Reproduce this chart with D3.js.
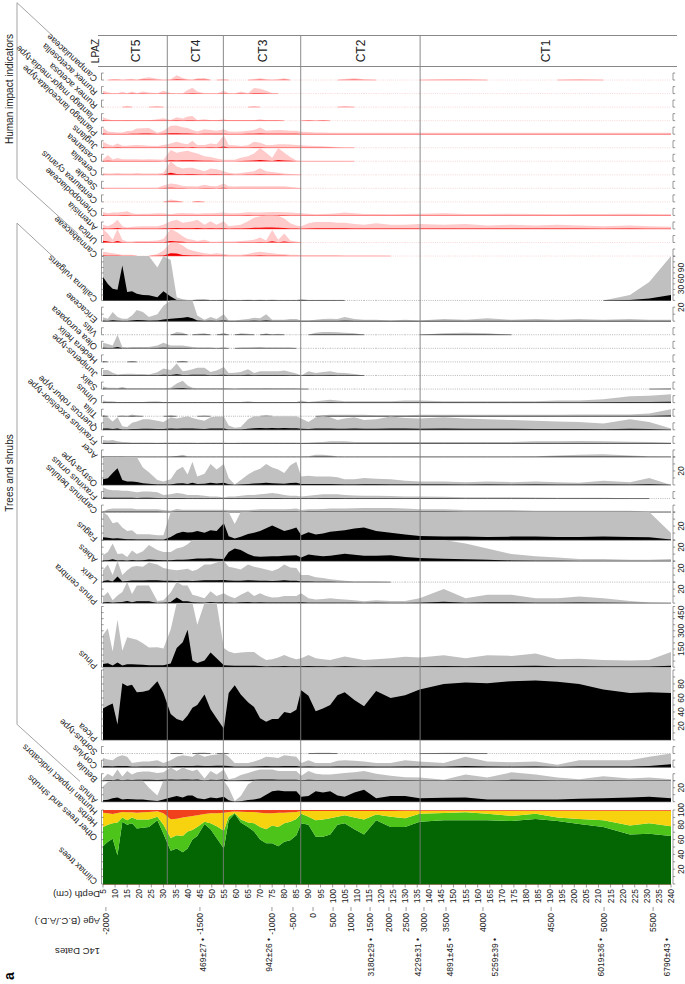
<!DOCTYPE html>
<html><head><meta charset="utf-8">
<script src="https://cdn.jsdelivr.net/npm/d3@7/dist/d3.min.js"></script>
<style>
body{margin:0;background:#fff;}
svg{display:block;font-family:"Liberation Sans",Arial,sans-serif;}
</style></head><body>
<svg id="c" width="685" height="984"></svg>
<script>
// ---------------- DATA ----------------
const depths=[5,7,9,11,13,15,17,19,21.5,24,27.5,30,33,35.5,38,40,42,44,47,49.5,52,55,57,59.5,62,65,67.5,70,72.5,75,77.5,80,82.5,85,87,90,93,96,99,102,105,109,113,118,124,130,136,146,155,164,174,184,193,202,212,223,231,240];
const zoneBounds=[31.6,54.8,86.8,136.2];
const zoneNames=["CT5","CT4","CT3","CT2","CT1"];
const depthTicks=[5,10,15,20,25,30,35,40,45,50,55,60,65,70,75,80,85,90,95,100,105,110,115,120,125,130,135,140,145,150,155,160,165,170,175,180,185,190,195,200,205,210,215,220,225,230,235,240];
const ageLabels=[-2000,-1500,-1000,-500,0,500,1000,1500,2000,2500,3000,3500,4000,4500,5000,5500];
const ageDepths=[6.2,45.1,74.9,83.6,91.9,100.2,107.6,115.5,123.3,130.4,137.8,146.9,162.2,190.4,212.3,232.6];
const c14Labels=["469±27","942±26","3180±29","4229±31","4891±45","5259±39","6019±36","6790±43"];
const c14Depths=[46.4,73.5,115.7,135.5,148.7,167,211.2,238.5];

// summary (%)
const climax=[51,57,61,39,84,80,82,75,76,77,86,68,45,48,43,48,60,65,81,74,62,48,86,95,83,77,71,60,55,55,51,57,59,66,82,80,64,64,67,80,82,74,67,86,77,77,84,86,86,86,85,88,85,81,77,67,68,65];
const otherTrees=[26,23,21,44,6,6,8,12,11,10,5,12,17,18,22,23,13,12,3,8,16,24,5,1,4,6,11,17,19,24,26,25,25,22,13,11,22,23,22,11,11,16,20,8,14,12,11,10,11,9,7,7,5,7,9,12,14,13];
const herbs=[19.4,15.5,12.6,13,7.3,11,7,9.4,10,10.3,7.2,15.5,25.4,22.3,25,20,19,15.8,10.6,13.5,17.5,24.4,6.3,2,10.7,14.3,15.3,19.4,21.5,16.5,19.4,14.4,13,9.3,3.5,7.5,12.5,11.5,9.5,7.5,5.5,8.5,11.5,4.5,7.5,10,4,3,2,4,7,4,9,11,13,20,17,21];
const humanSum=[3.6,4.5,5.4,4,2.7,3,3,3.6,3,2.7,1.8,4.5,12.6,11.7,10,9,8,7.2,5.4,4.5,4.5,3.6,2.7,2,2.3,2.7,2.7,3.6,4.5,4.5,3.6,3.6,3,2.7,1.5,1.5,1.5,1.5,1.5,1.5,1.5,1.5,1.5,1.5,1.5,1,1,1,1,1,1,1,1,1,1,1,1,1];

// human impact indicators (%)
const humanTaxa=["Campanulaceae","Rumex acetosella","Rumex acetosa","Plantago major-media-type","Plantago lanceolata-type","Juglans","Castanea","Cerealia","Secale","Centaurea cyanus","Chenopodiaceae","Artemisia","Urtica","Cannabaceae"];
const campanulaceae=[0,0,0.15,0.15,0,0.1,0.2,0,0.25,0.4, 0.2,0,0.1,0.7,0.3,0.1,0,0.25,0.3,0, 0,0.1,0,0,0,0,0.15,0.25,0.1,0, 0.1,0.25,0,0,0,0,0,0,0,0, 0.15,0.25,0.1,0,0,0,0,0.1,0.15,0, 0,0,0,0.1,0,0,0,0];
const rumexAcetosella=[0.4,0.2,0.05,0.05,0.25,0.05,0.3,0.05,0.3,0.15, 0.05,0.4,0.1,0,0.05,0.5,0.85,0.3,0.05,0.05, 0,0.4,0.05,0,0.3,0.05,0.8,0.7,0.4,0.1, 0,0,0,0,0,0,0,0,0,0, 0,0,0,0,0,0,0,0,0,0, 0,0,0,0,0,0,0,0];
const rumexAcetosa=[0,0,0,0,0,0.15,0,0,0,0, 0.15,0,0,0,0,0,0,0,0,0, 0,0,0,0,0,0,0.15,0,0,0, 0,0,0,0,0,0,0,0,0,0, 0.15,0,0,0,0,0,0,0,0,0, 0,0,0,0,0,0,0,0];
const plantagoMajor=[0.5,0.2,0.05,0.05,0.05,0.1,0.05,0.05,0.05,0.05, 0.2,0.35,0.1,0.5,0.3,0.6,0.65,0.1,0.2,0.05, 0.05,0.2,0.05,0.05,0.05,0.05,0.05,0.2,0.05,0.05, 0.05,0,0,0,0,0.1,0,0.1,0,0, 0,0,0,0,0,0,0,0,0,0, 0,0,0,0,0,0,0,0];
const plantagoLanc=[0.95,0.4,0.3,0.25,0.25,0.45,0.5,0.8,0.85,0.9, 0.2,0.5,1.2,1.25,1.0,0.9,0.6,0.4,0.7,0.6, 0.5,0.7,0.4,0.35,0.4,0.5,0.6,0.95,0.5,0.55, 0.6,0.55,0.5,0.5,0.35,0.3,0.25,0.25,0.2,0.2, 0.2,0.2,0.2,0.2,0.2,0.2,0.2,0.2,0.2,0.2, 0.2,0.2,0.2,0.2,0.2,0.2,0.2,0.2];
const juglans=[0.85,0.5,0.3,0.6,0.3,0.3,0.35,0.4,0.35,0.3, 0.25,0.4,0.6,0.85,0.6,0.5,1.0,0.4,0.4,0.6, 0.5,1.8,0.4,0.35,0.25,0.35,0.85,0.7,0.4,0.4, 0.5,0.5,0.45,0.4,0.35,0.3,0.25,0.2,0.15,0.1, 0.05,0,0,0,0,0,0,0,0,0, 0,0,0,0,0,0,0,0];
const castanea=[0.25,0.9,0.25,0.45,0.3,0.3,0.3,0.3,0.25,0.3, 0.25,0.2,1.6,1.2,1.4,1.5,1.3,1.1,0.7,0.6, 0.4,0.2,0.2,0.2,0.5,0.7,1.1,1.9,1.2,0.5, 1.9,1.2,0.6,0.1,0.05,0.05,0.05,0.05,0.05,0.05, 0.05,0,0,0,0,0,0,0,0,0, 0,0,0,0,0,0,0,0];
const cerealia=[0.25,0.2,0.2,0.25,0.2,0.2,0.2,0.25,0.2,0.2, 0.2,0.3,2.8,1.2,0.9,1.0,1.0,0.8,0.5,0.9, 0.8,0.5,0.3,0.2,0.25,0.4,0.5,0.95,0.5,0.4, 0.3,0.2,0.1,0.05,0,0,0,0,0,0, 0,0,0,0,0,0,0,0,0,0, 0,0,0,0,0,0,0,0];
const secale=[0.1,0.1,0.1,0.1,0.1,0.1,0.1,0.1,0.1,0.1, 0.1,0.4,0.7,0.6,0.35,0.3,0.3,0.25,0.5,0.35, 0.3,0.7,0.3,0.25,0.3,0.3,0.3,0.3,0.3,0.3, 0.3,0.3,0.2,0.1,0,0,0,0,0,0, 0,0,0,0,0,0,0,0,0,0, 0,0,0,0,0,0,0,0];
const centaurea=[0,0,0,0,0,0,0,0,0,0, 0,0,0.35,0.2,0,0,0,0.1,0,0, 0,0,0,0,0,0,0,0,0,0, 0,0,0,0,0,0,0,0,0,0, 0,0,0,0,0,0,0,0,0,0, 0,0,0,0,0,0,0,0];
const chenopodiaceae=[0.5,0.3,0.4,0.4,0.5,0.6,0.3,0.2,0.25,0.25, 0.3,0.3,0.15,0.3,0.35,0.3,0.3,0.25,0.3,0.3, 0.35,0.4,0.3,0.3,0.35,0.45,0.4,0.4,0.45,0.5, 0.5,0.45,0.4,0.35,0.3,0.25,0.15,0.2,0.25,0.3, 0.4,0.3,0.2,0.2,0.15,0.2,0.25,0.3,0.2,0.2, 0.25,0.2,0.15,0.2,0.2,0.25,0.2,0.15];
const artemisia=[0.6,0.4,0.7,1.3,0.4,0.2,0.3,0.35,0.4,0.4, 0.4,0.6,1.1,1.3,0.9,1.0,1.1,1.3,0.6,1.1, 0.6,1.1,0.4,0.5,0.6,1.1,1.6,1.8,2.0,2.2, 1.9,1.5,0.8,0.5,0.4,0.8,1.0,1.0,1.0,0.9, 0.9,0.7,0.6,0.8,0.6,0.6,0.7,0.6,0.7,0.5, 0.6,0.5,0.6,0.5,0.4,0.5,0.4,0.3];
const urtica=[2.5,1.3,0.4,2.0,0.4,0.15,0.15,0.2,0.2,0.2, 0.3,0.5,2.0,1.5,0.9,0.5,0.4,0.2,0.4,0.1, 0.1,0.15,0.15,0.15,0.2,0.3,0.4,0.7,0.3,1.8, 0.4,1.3,0.3,0.15,0,0,0,0,0,0, 0,0,0,0,0,0,0,0,0,0, 0,0,0,0,0,0,0,0];
const cannabaceae=[0.6,0.5,0.4,0.3,0.2,0.2,0.2,0,0,0, 0.3,0.8,4.0,3.5,1.5,1.0,0.8,0.6,0.4,0.3, 0.4,0.3,0.2,0.2,0.2,0.3,0.5,0.6,0.5,0.4, 0.3,0.25,0.2,0.2,0.1,0.1,0.1,0.1,0.1,0.1, 0.05,0.05,0.05,0.05,0,0,0,0,0,0, 0,0,0,0,0,0,0,0];
const humanValues=[campanulaceae,rumexAcetosella,rumexAcetosa,plantagoMajor,plantagoLanc,juglans,castanea,cerealia,secale,centaurea,chenopodiaceae,artemisia,urtica,cannabaceae];

// trees and shrubs (%)
const treeTaxa=["Calluna vulgaris","Ericaceae","Vitis","Olea europaea","Hedera helix","Juniperus-type","Salix","Ulmus","Tilia","Quercus robur-type","Fraxinus excelsior-type","Acer","Ostrya-type","Fraxinus ornus","Carpinus betulus","Fagus","Abies","Larix","Pinus cembra","Pinus","Picea","Sorbus-type","Corylus","Betula","Alnus"];
const calluna=[64,45,32,29,95,23,25,18,15,14, 9,25,11,0.9,0.3,0.1,0.1,0.3,0.4,0.1, 0.1,0.2,0.1,0.1,0.1,0.2,0.1,0.2,0.1,0.2, 0.1,0.1,0.1,0.1,0.4,0.1,0.1,0.1,0.1,0.1, 0,0,0,0,0,0,0,0,0,0, 0,0,0,0,0,1.5,5,15];
const ericaceae=[0.57,0.33,1.3,0.6,0.33,0.33,0.8,1.6,1.3,0.6, 1,2.2,3.5,4,5,6,4,0.8,0.2,0.6, 0.3,1,0.1,0.1,0.2,0.3,0.5,0.4,1,0.2, 0.2,0.2,0.3,0.3,0.1,0.1,0.2,0.3,0.35,0.3, 0.6,0.3,0.2,0.2,0.1,0.2,0.1,0.3,0.2,0.4, 0.2,0.3,0.2,0.3,0.2,0.3,0.2,0.2];
const vitis=[0,0,0,0,0,0,0,0,0,0, 0,0,0,0.4,0.3,0,0,0.15,0.2,0, 0,0.3,0,0,0.2,0.15,0,0,0.2,0, 0.15,0,0,0,0,0,0.3,0.4,0.4,0.35, 0.3,0.2,0,0,0,0,0,0.2,0.3,0.2, 0,0,0,0,0,0,0,0];
const olea=[0.8,0.6,0.4,2.0,0.2,0.1,0.2,0.2,0.2,0.2, 0.4,0.8,0.4,0.4,0.4,0.3,0.2,0.1,0.1,0.1, 0,0.15,0,0,0.1,0.1,0.15,0.2,0.1,0.1, 0.1,0.1,0.1,0,0,0,0,0,0,0, 0,0,0,0,0,0,0,0,0,0, 0,0,0,0,0,0,0,0];
const hedera=[0.1,0,0,0,0,0,0.05,0,0,0, 0,0,0,0,0.1,0,0,0,0,0, 0,0,0,0,0,0,0,0,0,0, 0,0,0,0,0,0,0,0,0,0, 0,0,0,0,0,0,0,0,0,0, 0,0,0,0,0,0,0,0];
const juniperus=[0.8,0.8,0.4,0.15,0.2,0.25,0.25,0.2,0.2,0.15, 0.45,1.0,0.8,1.7,0.6,0.7,0.9,1.1,1.1,0.5, 0.7,1.2,0.35,0.4,0.5,0.9,0.35,0.6,0.6,0.6, 0.6,0.7,0.5,0.3,0,0.6,0.35,0.5,0.6,0.4, 0.35,0.2,0,0,0,0,0,0,0,0, 0,0,0,0,0,0,0,0];
const salix=[0.4,0.2,0.2,0.15,0.3,0.1,0.1,0.1,0.1,0.1, 0.1,0.1,0.2,0.8,1.2,0.5,0.2,0.1,0.1,0.1, 0.1,0.1,0.1,0.05,0.1,0.1,0.1,0.1,0.15,0.1, 0.1,0.1,0.1,0.1,0.05,0,0,0,0,0, 0,0,0,0,0,0,0,0,0,0, 0,0,0,0,0,0,0,0.1];
const ulmus=[0.3,0.2,0.2,0.1,0.1,0.1,0.1,0.1,0.1,0.15, 0.2,0.1,0.1,0.1,0.1,0.1,0.1,0.1,0.1,0.1, 0.1,0.1,0.1,0.1,0.1,0.2,0.1,0.1,0.1,0.1, 0.1,0.1,0.1,0.1,0.3,0.1,0.2,0.3,0.4,0.3, 0.2,0.2,0.2,0.2,0.2,0.3,0.3,0.2,0.2,0.2, 0.2,0.2,0.3,0.3,0.5,0.9,1.0,1.2];
const tilia=[0.2,0,0,0,0.1,0,0.25,0.1,0,0, 0,0,0.15,0,0,0,0,0,0.1,0, 0,0,0,0,0,0,0,0,0.15,0, 0,0,0,0,0,0,0,0.15,0.2,0.2, 0.2,0.2,0.2,0.15,0.15,0.15,0.2,0.2,0.2,0.2, 0.2,0.2,0.2,0.25,0.25,0.25,0.4,1.0];
const quercus=[1.8,1.8,1.2,1.8,0.5,0.4,1.0,1.2,1.5,1.5, 1.3,1.1,1.8,1.6,1.8,2.0,1.7,1.5,1.3,1.8, 1.9,1.9,0.6,0.3,0.4,1.5,2.2,2.5,2.2,2.4, 2.2,2.5,2.3,2.2,1.6,1.1,1.8,2.0,1.8,1.4, 1.6,1.8,1.4,1.5,1.9,1.7,1.6,1.8,1.6,1.5, 1.4,1.3,1.2,1.1,0.9,1.5,1.1,0.2];
const fraxExc=[0.5,0.4,0.5,0.3,0.2,0.15,0.1,0.1,0.1,0.1, 0.05,0.1,0.1,0.1,0.1,0.1,0.1,0.05,0.1,0.1, 0.1,0.1,0.05,0.05,0.1,0.1,0.1,0.1,0.1,0.1, 0.1,0.1,0.1,0.1,0.05,0.1,0.15,0.2,0.3,0.3, 0.3,0.2,0.2,0.2,0.2,0.2,0.2,0.2,0.2,0.2, 0.2,0.3,0.3,0.35,0.3,0.25,0.2,0.1];
const acer=[0.1,0.1,0.1,0.1,0.1,0.05,0.05,0.05,0.05,0.05, 0.05,0.05,0.1,0.15,0.3,0.1,0.05,0.05,0.05,0.05, 0.05,0.05,0.05,0.05,0.05,0.05,0.05,0.05,0.05,0.05, 0.05,0.05,0.05,0.05,0.05,0.1,0.3,0.3,0.2,0.1, 0.05,0.05,0.05,0.05,0.05,0.05,0.05,0.05,0.05,0.05, 0.05,0.1,0.2,0.3,0.4,0.2,0.1,0.05];
const ostrya=[8,9.5,17,24,7,4.8,5,4.2,2.5,1.8, 0.7,0.5,0.8,2.1,2.6,1.5,3.3,1.2,1.6,3.0, 2.2,3.0,1.0,0.05,0.7,1.5,2.0,2.3,3.0,2.5, 2.2,1.7,2.8,3.3,1.2,1.3,1.2,1.2,1.2,1.1, 0.8,0.8,1.0,0.9,0.8,0.6,0.5,0.5,0.4,0.5, 0.4,0.5,0.4,0.3,0.6,0.4,1.0,0];
const fraxOrnus=[1.6,1.3,1.2,1.2,1.1,1.1,1.0,0.9,1.0,1.0, 0.9,0.5,0.6,0.8,0.7,0.5,0.5,0.5,0.4,0.3, 0.3,0.2,0.3,0.3,0.4,0.5,0.5,0.6,0.7,0.8, 0.7,0.5,0.4,0.4,0.3,0.4,0.5,0.6,0.6,0.6, 0.5,0.45,0.4,0.4,0.35,0.3,0.3,0.25,0.2,0.2, 0.2,0.15,0.1,0.1,0.1,0.05,0,0];
const carpinus=[0.1,0.4,0.5,0.5,0.5,0.5,0.5,0.4,0.4,0.4, 0.4,0.3,0.2,0.45,0.35,0.35,0.35,0.35,0.35,0.35, 0.35,0.35,0.3,0.3,0.3,0.3,0.35,0.4,0.4,0.4, 0.4,0.4,0.45,0.5,0.3,0.4,0.4,0.45,0.5,0.5, 0.5,0.55,0.6,0.6,0.6,0.5,0.4,0.4,0.3,0.3, 0.3,0.2,0.2,0.2,0.2,0.2,0.1,0.1];
const fagus=[4.2,3.5,2.4,2.6,1.8,1.3,1.4,0.85,0.85,0.85, 0.7,0.7,4.5,9.5,12,11,11.4,13,10.5,14, 13,24,5.7,2.3,4.8,8.6,10.5,13,17,21, 17,13,15,18,7,11.4,8,9.5,12,13, 14,16.7,18,13,10.5,8,6,5,5,4.5, 5,5,4.5,4.5,5,4.5,4,1];
const abies=[0.85,1.3,2.5,1.0,1.1,0.6,1.5,1.0,1.4,2.3, 1.6,1.3,1.3,1.8,2.0,2.4,3.2,3.8,3.8,4, 3.5,3,13,18,16,10,7,6.2,6.5,7, 7,7.5,8,8.5,5,9.5,8,7,7.5,9, 10.5,9,7.5,7.8,8.5,6,4.5,3.5,2.5,1.8, 1.0,0.7,0.5,0.3,0.3,0.2,0.2,0.3];
const larix=[1.7,2.5,1.0,8,1.0,1.7,2.2,2.3,2.2,2.8, 2.5,2.0,1.8,1.7,1.8,1.9,1.6,1.8,2.5,2.5, 2.8,3.0,2.2,2.0,1.8,2.5,2.2,2.0,1.8,1.6, 1.9,2.5,2.1,2.0,1.0,1.0,0.7,0.6,0.4,0.3, 0.2,0.1,0.1,0.1,0,0,0,0,0,0, 0,0,0,0,0,0,0,0];
const pinusCembra=[0.9,1.6,0.4,1.1,1.6,3,1.3,2.5,2.5,2.5, 0.3,0.4,1.5,8,2.5,2.5,1.2,1.0,0.7,1.7, 1.0,1.4,1.0,0.7,1.2,1.7,1.0,1.4,1.0,0.8, 0.85,1.0,1.0,1.0,1.4,0.7,0.5,0.6,0.7,0.6, 0.5,0.4,0.25,0.4,0.3,0.3,0.7,2.0,0.7,1.2, 1.2,0.7,0.7,0.95,0.7,0.3,0.1,0];
const pinus=[26.6,32,13,39,13.5,24.7,23.6,22.5,19.8,16.2, 16.5,15.4,31,157,206,308,55,35,55,121, 74,15.7,13,11.5,12,12.6,12.6,8.8,6,6.6, 8,10,8,6.6,7.4,10,7.4,6.6,6,7.4, 8.8,7.4,6,6.6,7.4,8.5,8,9.9,7.4,9.9, 9.3,11.3,6.6,6.9,6,5.5,6,12.4];
const picea=[45,49,52,22,81,77,79,68,69,71, 84,67,37,30,27,35,46,50,65,44, 31,16,67,78,65,54,47,31,26,30, 30,40,38,43,71,63,41,45,50,64, 68,57,48,70,60,64,72,80,82,81, 84,85,83,80,72,67,68,67];
const sorbus=[0,0,0,0,0,0,0,0,0,0, 0,0,0,0.1,0,0,0,0.1,0.15,0, 0,0.1,0,0,0,0,0,0,0,0, 0,0,0,0,0,0,0.1,0.1,0.1,0, 0,0,0,0,0,0,0,0.1,0.1,0, 0,0,0,0,0,0,0,0];
const corylus=[1.3,1.1,1.0,1.5,1.7,1.5,0.6,0.7,0.8,0.8, 1.0,0.6,1.0,1.5,1.7,1.6,1.5,1.9,1.5,1.7, 1.8,2.0,1.5,0.6,0.6,0.6,0.8,1.1,1.5,1.4, 1.3,1.7,1.6,1.5,0.6,1.0,0.6,0.6,0.6,0.9, 1.0,0.9,0.8,0.6,0.6,1.0,0.8,0.6,1.5,0.8, 0.7,0.8,0.35,1.0,1.0,1.0,1.5,4];
const betula=[0.3,1.0,0.6,1.6,0.6,1.4,0.9,1.2,1.3,1.3, 1.1,1.2,1.9,1.4,1.9,1.6,1.4,1.6,0.3,1.4, 0.9,1.6,0.2,0.4,0.8,1.1,1.4,1.6,1.6,1.6, 1.4,1.4,1.4,1.4,0.7,1.4,1.0,0.9,0.9,1.0, 1.1,1.2,1.4,1.0,0.7,0.5,0.45,0.15,0.9,0.45, 1.2,0.9,0.45,0.2,0.65,0.3,0.45,0.2];
const alnus=[2.2,2.8,4.8,6,3.3,3.8,3.5,3.3,3.0,2.0, 0.9,3.3,6,8,6,9,9,5,3.5,6, 5,7,2.0,0.1,0.8,2.5,3.3,5,10,15, 16,15,15,15,7,8,15,13,15,9, 7,13,17,5,8,8,5,5.7,6,3.2, 3.3,3.3,3.2,4.3,5,6,7,5];
const treeValues=[calluna,ericaceae,vitis,olea,hedera,juniperus,salix,ulmus,tilia,quercus,fraxExc,acer,ostrya,fraxOrnus,carpinus,fagus,abies,larix,pinusCembra,pinus,picea,sorbus,corylus,betula,alnus];
const treeAxisMax=[121,29.6,19.4,19.4,19.4,19.4,19.4,19.4,19.4,19.4,19.4,19.4,40,19.4,19.4,40,30,30,30,528,104,19.4,19.4,19.4,30];
const summaryLabels=["Climax trees","Other trees and shrubs","Herbs","Human impact indicators"];

// ---------------- LAYOUT / STYLE ----------------
const svg=d3.select("#c");
const x=d3.scaleLinear().domain([5,240]).range([103,671]);
const K=0.7, EXAG=10, HUMAN_MAX=19.34;
const special={"Calluna vulgaris":{k:0.367,tick:15,label:30},"Pinus":{k:0.1213,tick:50,label:150}};
const GREY="#c0c0c0", PINK="#ffcaca", RED="#f20000";
const TXT="#222";
const LEFT_AX=101.5, RIGHT_AX=673;

const panels=[];
let yc=66.5;
humanTaxa.forEach((n,i)=>{const h=HUMAN_MAX*K;panels.push({name:n,vals:humanValues[i],top:yc,base:yc+h,max:HUMAN_MAX,k:K,tick:10,label:20,human:true});yc+=h;});
treeTaxa.forEach((n,i)=>{const s=special[n]||{k:K,tick:10,label:20};const h=treeAxisMax[i]*s.k;panels.push({name:n,vals:treeValues[i],top:yc,base:yc+h,max:treeAxisMax[i],k:s.k,tick:s.tick,label:s.label,human:false});yc+=h;});
const sumTop=810, sumBase=884;

function drawPanel(p){
  const g=svg.append("g");
  const data=depths.map((d,i)=>({d,v:p.vals[i]}));
  const yv=v=>p.base-Math.min(v,p.max)*p.k;
  g.append("path").attr("d",d3.area().x(d=>x(d.d)).y0(p.base).y1(d=>yv(d.v*EXAG))(data)).attr("fill",p.human?PINK:GREY);
  g.append("path").attr("d",d3.area().x(d=>x(d.d)).y0(p.base).y1(d=>yv(d.v))(data)).attr("fill",p.human?RED:"#000");
  for(let i=0;i<data.length-1;i++){
    const pres=data[i].v>0||data[i+1].v>0;
    g.append("line").attr("x1",x(data[i].d)).attr("x2",x(data[i+1].d)).attr("y1",p.base).attr("y2",p.base)
      .attr("stroke",pres?(p.human?"#f55":"#333"):(p.human?"#f6b0b0":"#9a9a9a"))
      .attr("stroke-width",p.human?0.5:0.7).attr("stroke-dasharray",pres?null:"1,1.2");
  }
  const ticks=d3.range(0,p.max+1e-6,p.tick);
  const topTick=ticks[ticks.length-1];
  [LEFT_AX,RIGHT_AX].forEach(ax=>{
    g.append("line").attr("x1",ax).attr("x2",ax).attr("y1",p.base).attr("y2",p.base-topTick*p.k).attr("stroke","#555").attr("stroke-width",0.6);
    ticks.forEach(t=>g.append("line").attr("x1",ax).attr("x2",ax+2.2).attr("y1",p.base-t*p.k).attr("y2",p.base-t*p.k).attr("stroke","#555").attr("stroke-width",0.6));
  });
  ticks.filter(t=>t>0&&t<=p.max-5&&Math.abs(t/p.label-Math.round(t/p.label))<1e-6).forEach(t=>{
    g.append("text").attr("transform",`translate(684,${p.base-t*p.k}) rotate(-90)`).attr("text-anchor","middle")
      .attr("font-size",8.5).attr("fill",TXT).text(t);
  });
  g.append("text").attr("transform",`translate(98,${p.base-2}) rotate(-137)`).attr("text-anchor","start")
    .attr("font-size",9).attr("fill",TXT).text(p.name);
}
panels.forEach(drawPanel);

// summary panel
const ys=d3.scaleLinear().domain([0,100]).range([sumBase,sumTop]);
const rows=depths.map((d,i)=>({depth:d,climax:climax[i],other:otherTrees[i],herbs:herbs[i],human:humanSum[i]}));
const keys=["climax","other","herbs","human"];
const sumColors=["#036603","#4cc41a","#f6d20f","#f0401c"];
d3.stack().keys(keys)(rows).forEach((s,j)=>{
  svg.append("path").attr("d",d3.area().x(d=>x(d.data.depth)).y0(d=>ys(d[0])).y1(d=>ys(d[1]))(s)).attr("fill",sumColors[j]);
});
[LEFT_AX,RIGHT_AX].forEach(ax=>{
  svg.append("line").attr("x1",ax).attr("x2",ax).attr("y1",ys(0)).attr("y2",ys(100)).attr("stroke","#555").attr("stroke-width",0.6);
  d3.range(0,101,10).forEach(t=>svg.append("line").attr("x1",ax).attr("x2",ax+2.2).attr("y1",ys(t)).attr("y2",ys(t)).attr("stroke","#555").attr("stroke-width",0.6));
});
[20,40,60,80,100].forEach(t=>svg.append("text").attr("transform",`translate(684,${ys(t)}) rotate(-90)`).attr("text-anchor","middle").attr("font-size",8.5).attr("fill",TXT).text(t));
const sumLabelPct=[3,62,81,97];
summaryLabels.forEach((l,i)=>svg.append("text").attr("transform",`translate(98,${ys(sumLabelPct[i])-1}) rotate(-137)`).attr("font-size",9).attr("fill",TXT).text(l));

// zone lines + LPAZ
const ZC="#7d7d7d";
zoneBounds.forEach(b=>svg.append("line").attr("x1",x(b)).attr("x2",x(b)).attr("y1",35.5).attr("y2",sumBase).attr("stroke",ZC).attr("stroke-width",0.9));
[35.5,66.5].forEach(yy=>svg.append("line").attr("x1",98).attr("x2",677).attr("y1",yy).attr("y2",yy).attr("stroke","#888").attr("stroke-width",1));
const zEdges=[5,...zoneBounds,240];
zoneNames.forEach((n,i)=>{const cx=(x(zEdges[i])+x(zEdges[i+1]))/2;
  svg.append("text").attr("transform",`translate(${cx+4.5},51) rotate(-90)`).attr("text-anchor","middle").attr("font-size",12).attr("fill",TXT).text(n);});
svg.append("text").attr("transform","translate(99,51) rotate(-90)").attr("text-anchor","middle").attr("font-size",10).attr("fill",TXT).text("LPAZ");

// group brackets
const BR="#999";
function bracket(firstBase,lastBase,endTop,endBot){
  const yAt=(b,xx)=>b-2-(98-xx)*0.93;
  const y1=yAt(firstBase,17), y2=yAt(lastBase,17);
  svg.append("line").attr("x1",17).attr("x2",17).attr("y1",y1).attr("y2",y2).attr("stroke",BR).attr("stroke-width",0.9);
  svg.append("line").attr("x1",17).attr("y1",y1).attr("x2",endTop).attr("y2",yAt(firstBase,endTop)).attr("stroke",BR).attr("stroke-width",0.9);
  svg.append("line").attr("x1",17).attr("y1",y2).attr("x2",endBot).attr("y2",yAt(lastBase,endBot)-1.5).attr("stroke",BR).attr("stroke-width",0.9);
}
const hp=panels.filter(p=>p.human), tp=panels.filter(p=>!p.human);
bracket(hp[0].base,hp[hp.length-1].base,53,78);
bracket(tp[0].base,tp[tp.length-1].base,55,80);
svg.append("text").attr("transform",`translate(13,89) rotate(-90)`).attr("text-anchor","middle").attr("font-size",10).attr("fill",TXT).text("Human impact indicators");
svg.append("text").attr("transform",`translate(13,473) rotate(-90)`).attr("text-anchor","middle").attr("font-size",10).attr("fill",TXT).text("Trees and shrubs");

// depth axis
svg.append("line").attr("x1",x(5)).attr("x2",x(240)).attr("y1",sumBase+0.5).attr("y2",sumBase+0.5).attr("stroke","#6b5a2a").attr("stroke-width",0.8);
depthTicks.forEach(d=>{
  svg.append("line").attr("x1",x(d)).attr("x2",x(d)).attr("y1",sumBase).attr("y2",sumBase+3.5).attr("stroke","#555").attr("stroke-width",0.6);
  svg.append("text").attr("transform",`translate(${x(d)+3},${sumBase+5}) rotate(-90)`).attr("text-anchor","end").attr("font-size",8.5).attr("fill",TXT).text(d);
});
ageLabels.forEach((a,i)=>{
  const xx=x(ageDepths[i]);
  svg.append("line").attr("x1",xx).attr("x2",xx).attr("y1",907).attr("y2",911).attr("stroke","#555").attr("stroke-width",0.6);
  svg.append("text").attr("transform",`translate(${xx+3},913) rotate(-90)`).attr("text-anchor","end").attr("font-size",8.5).attr("fill",TXT).text(a);
});
c14Labels.forEach((c,i)=>{
  const xx=x(c14Depths[i]);
  svg.append("text").attr("transform",`translate(${xx+3},938) rotate(-90)`).attr("text-anchor","end").attr("font-size",8.5).attr("fill",TXT).text(c+" •");
});
[["Depth (cm)",891],["Age (B.C./A.D.)",918],["14C Dates",948]].forEach(([t,yy])=>
  svg.append("text").attr("transform",`translate(100,${yy}) rotate(180)`).attr("font-size",9.5).attr("fill",TXT).text(t));
svg.append("text").attr("transform","translate(14,976) rotate(-90)").attr("text-anchor","middle").attr("font-size",14).attr("font-weight","bold").attr("fill","#000").text("a");
</script></body></html>
